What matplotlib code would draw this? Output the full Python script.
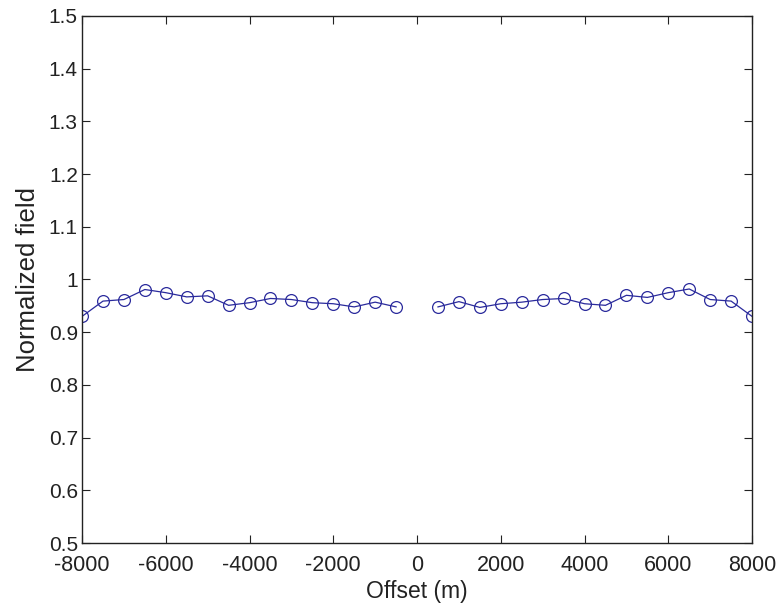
import numpy as np
import matplotlib.pyplot as plt

plt.rcParams['font.family'] = ['Liberation Sans', 'DejaVu Sans']

# offsets in metres, negative and positive branches
offset_neg = np.arange(-8000, 0, 500)
offset_pos = np.arange(500, 8001, 500)

field_neg = [0.930, 0.959, 0.962, 0.981, 0.975, 0.967, 0.969, 0.951,
             0.956, 0.964, 0.962, 0.956, 0.954, 0.948, 0.957, 0.948]
field_pos = [0.948, 0.958, 0.947, 0.954, 0.957, 0.962, 0.964, 0.954,
             0.951, 0.970, 0.966, 0.975, 0.982, 0.962, 0.959, 0.930]

yticks = np.arange(0.5, 1.51, 0.1)
ytick_labels = ['0.5', '0.6', '0.7', '0.8', '0.9', '1', '1.1', '1.2', '1.3', '1.4', '1.5']
xticks = np.arange(-8000, 8001, 2000)

fig = plt.figure(figsize=(7.82, 6.08), dpi=100)
ax = fig.add_axes([0.1049, 0.1069, 0.8568, 0.8668])

col = '#2a2a9c'
for x, y in [(offset_neg, field_neg), (offset_pos, field_pos)]:
    ax.plot(x, y, '-o', color=col, lw=0.9, markersize=8.5,
            markerfacecolor='none', markeredgecolor=col, markeredgewidth=0.9)

ax.set_xlim(-8000, 8000)
ax.set_ylim(0.5, 1.5)
ax.set_xticks(xticks)
ax.set_xticklabels([str(v) for v in xticks])
ax.set_yticks(yticks)
ax.set_yticklabels(ytick_labels)
ax.tick_params(direction='in', top=True, right=True, length=6, width=0.8,
               labelsize=15.5, color='#222222', labelcolor='#222222')
ax.tick_params(axis='x', pad=8.5)
ax.tick_params(axis='y', pad=3, labelsize=15)
for s in ax.spines.values():
    s.set_linewidth(1.0)
    s.set_color('#222222')

ax.set_xlabel('Offset (m)', fontsize=16.5, color='#222222', labelpad=3)
ax.set_ylabel('Normalized field', fontsize=18.5, color='#222222', labelpad=6)

fig.savefig('out.png', dpi=100)
